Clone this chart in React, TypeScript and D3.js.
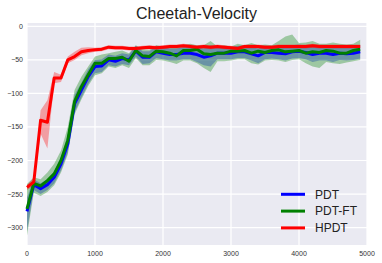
import { useMemo } from 'react'
import { scaleLinear, line, area } from 'd3'

const W = 382
const H = 263
const M = { left: 27, right: 367, top: 23, bottom: 245 }

const steps = [0, 100, 200, 300, 400, 500, 600, 700, 800, 900, 1000, 1100, 1200, 1300, 1400, 1500, 1600, 1700, 1800, 1900,
  2000, 2100, 2200, 2300, 2400, 2500, 2600, 2700, 2800, 2900, 3000, 3100, 3200, 3300, 3400, 3500, 3600, 3700, 3800, 3900,
  4000, 4100, 4200, 4300, 4400, 4500, 4600, 4700, 4800, 4900]

const xTicks = [0, 1000, 2000, 3000, 4000, 5000]
const yTicks = [0, -50, -100, -150, -200, -250, -300]

// PDT
const pdtMean = [-276, -236, -242, -236, -225, -205, -175, -115, -95, -75, -60, -59, -50, -52, -48, -50, -37, -46, -46, -38,
  -40, -42, -42, -40, -40, -42, -46, -44, -40, -40, -40, -38, -38, -41, -44, -39, -39, -40, -41, -38,
  -37, -39, -42, -40, -40, -42, -40, -41, -40, -38]
const pdtLo = [-305, -244, -250, -244, -234, -215, -188, -128, -106, -86, -70, -68, -58, -60, -56, -58, -45, -56, -55, -47,
  -49, -51, -51, -49, -49, -53, -58, -60, -49, -49, -49, -47, -47, -51, -55, -49, -48, -49, -51, -48,
  -47, -49, -53, -51, -51, -53, -50, -51, -50, -48]
const pdtHi = [-255, -228, -234, -228, -216, -194, -162, -102, -84, -64, -50, -49, -42, -44, -40, -42, -29, -37, -37, -29,
  -31, -33, -33, -31, -31, -31, -33, -28, -31, -31, -31, -29, -29, -31, -33, -29, -30, -31, -31, -28,
  -27, -29, -31, -29, -29, -31, -30, -31, -30, -28]

// PDT-FT
const ftMean = [-272, -234, -238, -230, -220, -200, -170, -112, -90, -72, -55, -55, -48, -48, -46, -52, -36, -44, -45, -37,
  -38, -40, -44, -36, -36, -34, -41, -42, -40, -40, -37, -37, -36, -40, -37, -39, -36, -35, -38, -37,
  -36, -40, -38, -39, -36, -37, -40, -40, -36, -34]
const ftLo = [-312, -248, -253, -247, -237, -218, -191, -131, -109, -89, -73, -70, -60, -62, -58, -62, -47, -58, -58, -50,
  -51, -53, -56, -51, -51, -55, -62, -68, -52, -52, -51, -49, -49, -55, -57, -51, -50, -51, -53, -50,
  -49, -55, -60, -62, -53, -55, -56, -54, -52, -50]
const ftHi = [-235, -225, -228, -218, -205, -185, -150, -95, -75, -60, -45, -42, -40, -38, -36, -40, -28, -34, -35, -28,
  -30, -30, -30, -28, -26, -28, -28, -22, -30, -28, -30, -26, -28, -25, -28, -27, -28, -22, -15, -12,
  -25, -24, -22, -26, -26, -24, -26, -27, -26, -20]

// HPDT
const hpdtMean = [-240, -232, -140, -143, -77, -77, -50, -45, -38, -36, -35, -34, -31, -32, -32, -33, -33, -32, -31, -32,
  -31, -30, -30, -29, -30, -31, -30, -31, -30, -31, -32, -33, -30, -30, -30, -31, -31, -30, -30, -30,
  -30, -30, -29, -30, -30, -30, -30, -30, -30, -30]
const hpdtLo = [-244, -238, -160, -182, -85, -83, -55, -50, -43, -40, -38, -37, -34, -35, -35, -36, -36, -35, -34, -35,
  -34, -33, -33, -32, -33, -34, -33, -34, -33, -34, -35, -36, -33, -33, -33, -34, -34, -33, -33, -33,
  -33, -33, -32, -33, -33, -33, -33, -33, -33, -33]
const hpdtHi = [-236, -226, -125, -110, -68, -72, -45, -38, -32, -31, -32, -31, -28, -29, -29, -30, -30, -29, -28, -29,
  -28, -27, -27, -26, -27, -28, -27, -28, -27, -28, -29, -30, -27, -27, -27, -28, -28, -27, -27, -27,
  -27, -27, -26, -27, -27, -27, -27, -27, -27, -27]

const series = [
  { name: 'PDT', color: '#0000ff', mean: pdtMean, lo: pdtLo, hi: pdtHi },
  { name: 'PDT-FT', color: '#008000', mean: ftMean, lo: ftLo, hi: ftHi },
  { name: 'HPDT', color: '#ff0000', mean: hpdtMean, lo: hpdtLo, hi: hpdtHi },
]

const FONT = '"Liberation Sans", Arial, sans-serif'

export default function App() {
  const x = useMemo(() => scaleLinear().domain([0, 5000]).range([M.left, M.right]), [])
  const y = useMemo(() => scaleLinear().domain([-326, 5]).range([M.bottom, M.top]), [])

  const meanLine = line<number>().x((_, i) => x(steps[i])).y(v => y(v))

  return (
    <svg width={W} height={H} style={{ position: 'absolute', left: 0, top: 0 }}>
      <rect x={M.left} y={M.top} width={M.right - M.left} height={M.bottom - M.top} fill="#eaeaf2" />
      {xTicks.map(t => (
        <line key={'gx' + t} x1={x(t)} x2={x(t)} y1={M.top} y2={M.bottom} stroke="#fff" strokeWidth={1.2} />
      ))}
      {yTicks.map(t => (
        <line key={'gy' + t} x1={M.left} x2={M.right} y1={y(t)} y2={y(t)} stroke="#fff" strokeWidth={1.2} />
      ))}

      {/* blue band first, green on top of it gives the steel-blue overlap */}
      {series.map(s => {
        const band = area<number>()
          .x((_, i) => x(steps[i]))
          .y0((_, i) => y(s.lo[i]))
          .y1((_, i) => y(s.hi[i]))
        return <path key={'b' + s.name} d={band(s.mean) ?? ''} fill={s.color} fillOpacity={0.33} stroke="none" />
      })}
      {series.map(s => (
        <path key={'l' + s.name} d={meanLine(s.mean) ?? ''} fill="none" stroke={s.color} strokeWidth={3} strokeLinejoin="round" />
      ))}

      {xTicks.map(t => (
        <text key={'tx' + t} x={x(t)} y={256} textAnchor="middle" fontSize={7} fill="#333" fontFamily={FONT}>{t}</text>
      ))}
      {yTicks.map(t => (
        <text key={'ty' + t} x={23} y={y(t) + 2.5} textAnchor="end" fontSize={7} fill="#333" fontFamily={FONT}>
          {t < 0 ? '\u2212' + Math.abs(t) : t}
        </text>
      ))}

      <text x={196.5} y={19.3} textAnchor="middle" fontSize={16} fill="#222" fontFamily={FONT}>Cheetah-Velocity</text>

      {series.map((s, i) => (
        <g key={'lg' + s.name} transform={`translate(0,${194.3 + i * 16.8})`}>
          <line x1={281} x2={305} y1={0} y2={0} stroke={s.color} strokeWidth={3} />
          <text x={315} y={4.2} fontSize={12} fill="#222" fontFamily={FONT}>{s.name}</text>
        </g>
      ))}
    </svg>
  )
}
